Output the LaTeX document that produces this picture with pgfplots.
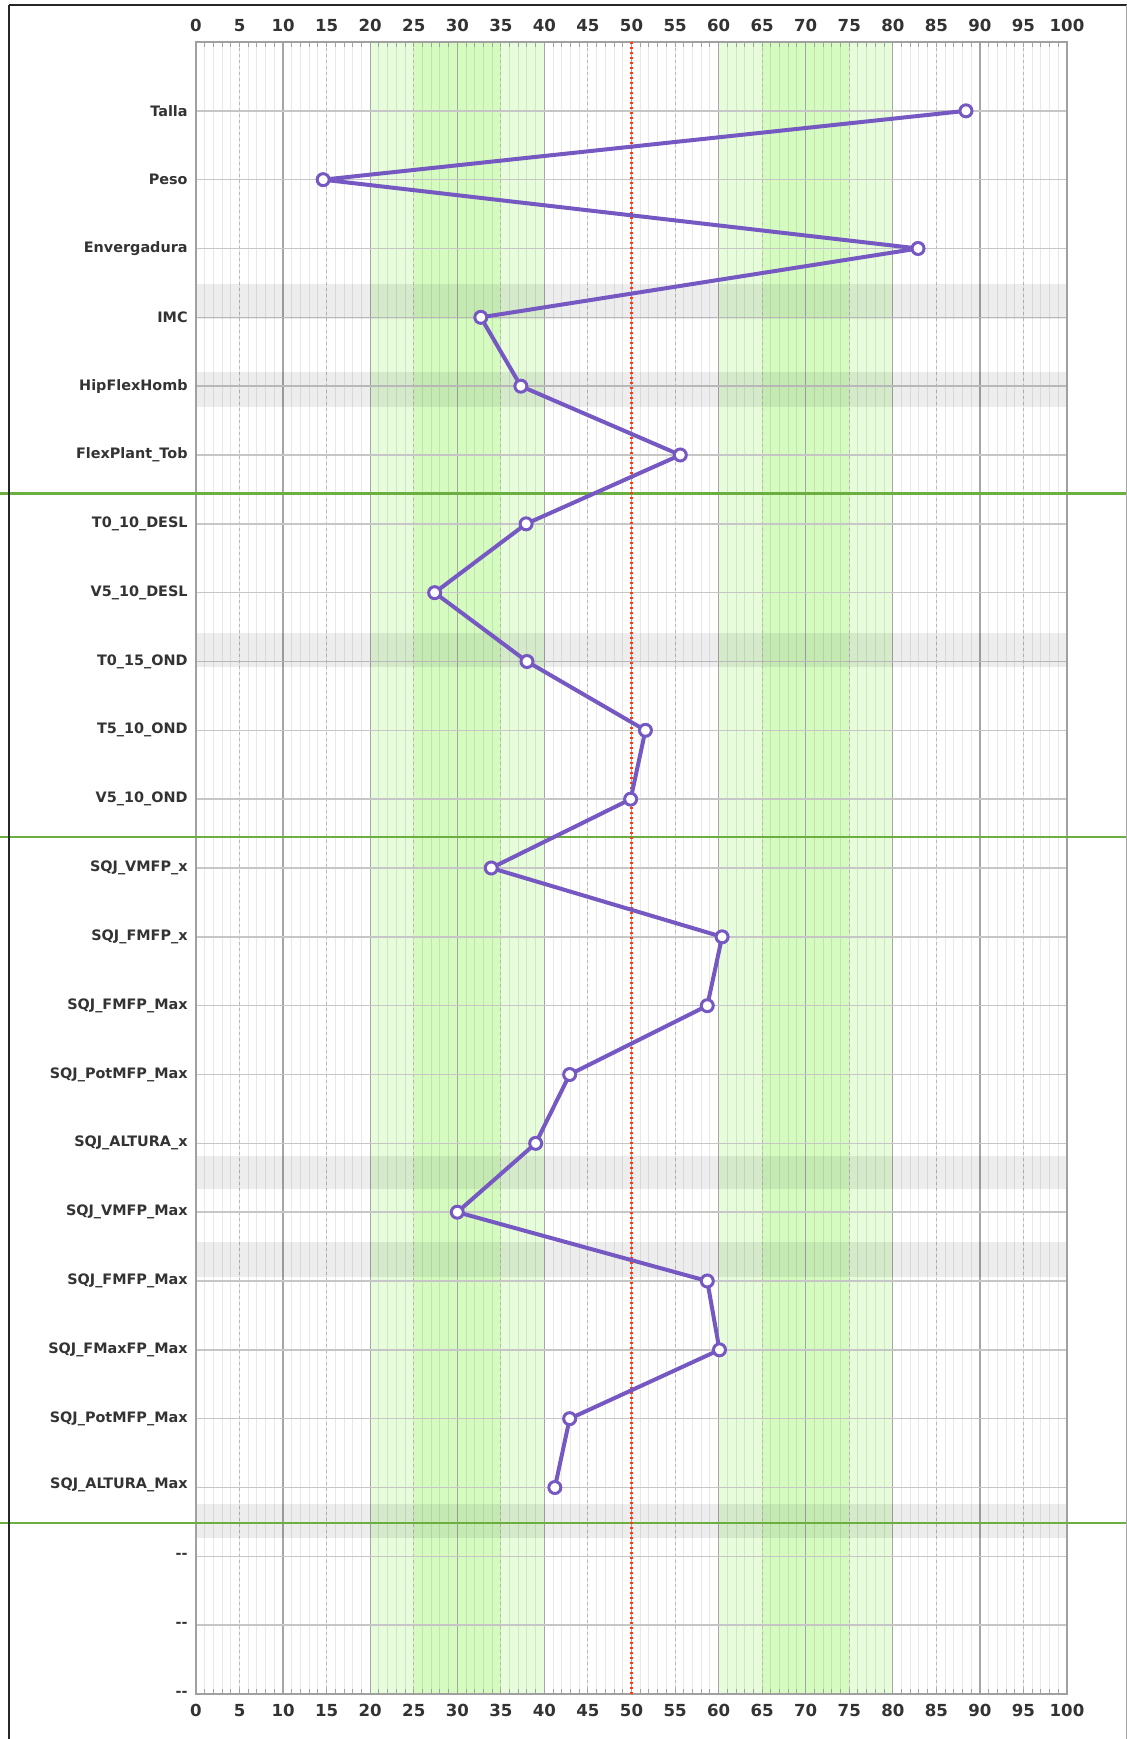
\documentclass[border=0pt]{standalone}
\usepackage{pgfplots}
\pgfplotsset{compat=1.18}
\usepackage{fontspec}
\setmainfont{DejaVu Sans}
\usetikzlibrary{calc}

\definecolor{lgreen}{HTML}{E6FCDA}
\definecolor{dgreen}{HTML}{D5FBC0}
\definecolor{rowgrid}{HTML}{C6C6C6}
\definecolor{tengrid}{HTML}{A6A6A6}
\definecolor{fivegrid}{HTML}{B8B8B8}
\definecolor{boxc}{HTML}{A0A0A0}
\definecolor{purp}{HTML}{7658C2}
\definecolor{redd}{HTML}{FF3A10}
\definecolor{sepgreen}{HTML}{6AAF40}
\definecolor{txt}{HTML}{333333}

\begin{document}
\begin{tikzpicture}
\begin{axis}[
    name=ax,
    scale only axis,
    width=435.5pt, height=826pt,
    xmin=0, xmax=100, ymin=0, ymax=24,
    y dir=reverse,
    clip=false,
    axis line style={draw=none},
    xtick=\empty,
    ytick={1,...,24},
    yticklabels={Talla, Peso, Envergadura, IMC, HipFlexHomb, FlexPlant\_Tob,
        T0\_10\_DESL, V5\_10\_DESL, T0\_15\_OND, T5\_10\_OND, V5\_10\_OND,
        {SQJ\_VMFP\_x\hspace{2.5pt}}, {SQJ\_FMFP\_x\hspace{2.5pt}}, {SQJ\_FMFP\_Max\hspace{2.5pt}},
        {SQJ\_PotMFP\_Max\hspace{2.5pt}}, {SQJ\_ALTURA\_x\hspace{2.5pt}}, {SQJ\_VMFP\_Max\hspace{2.5pt}},
        {SQJ\_FMFP\_Max\hspace{2.5pt}}, {SQJ\_FMaxFP\_Max\hspace{2.5pt}}, {SQJ\_PotMFP\_Max\hspace{2.5pt}},
        {\raisebox{4.5pt}{SQJ\_ALTURA\_Max}}, {-{}-}, {-{}-}, {-{}-}},
    major tick length=0pt,
    ytick style={draw=none},
    yticklabel style={font=\bfseries\fontsize{7.2}{8}\selectfont, text=txt,
        anchor=east, inner sep=0pt, xshift=-4pt},
]
% reference zones
\fill[lgreen] (axis cs:20,0) rectangle (axis cs:40,24);
\fill[dgreen] (axis cs:25,0) rectangle (axis cs:35,24);
\fill[lgreen] (axis cs:60,0) rectangle (axis cs:80,24);
\fill[dgreen] (axis cs:65,0) rectangle (axis cs:75,24);

% vertical grid
\pgfplotsinvokeforeach{1,...,99}{
    \draw[black, opacity=0.09, line width=0.5pt] (axis cs:#1,0) -- (axis cs:#1,24);
}
\pgfplotsinvokeforeach{5,15,...,95}{
    \draw[fivegrid, line width=0.5pt, dash pattern=on 1.5pt off 1.5pt] (axis cs:#1,0) -- (axis cs:#1,24);
}
\pgfplotsinvokeforeach{10,20,...,90}{
    \draw[tengrid, line width=0.6pt] (axis cs:#1,0) -- (axis cs:#1,24);
}
% horizontal grid
\pgfplotsinvokeforeach{1,...,23}{
    \draw[rowgrid, line width=0.75pt] (axis cs:0,#1) -- (axis cs:100,#1);
}
% shaded rows
\pgfplotsinvokeforeach{3.52/4.02, 4.80/5.30, 8.59/9.08, 16.18/16.67, 17.44/17.94, 21.24/21.73}{
    \pgfplotsforeachungrouped \a/\b in {#1}{
        \edef\tmp{\noexpand\fill[black, opacity=0.07] (axis cs:0,\a) rectangle (axis cs:100,\b);}\tmp
    }
}
% tick marks
\pgfplotsinvokeforeach{0,...,100}{
    \draw[boxc, line width=0.5pt] (axis cs:#1,0) -- ++(0,-2.5pt);
    \draw[boxc, line width=0.5pt] (axis cs:#1,24) -- ++(0,2.5pt);
}
\draw[boxc, line width=0.7pt] (axis cs:0,0) rectangle (axis cs:100,24);

% tick labels top and bottom
\pgfplotsinvokeforeach{0,5,...,100}{
    \node[anchor=base, inner sep=0pt, text=txt, font=\bfseries\fontsize{8.3}{9}\selectfont]
        at ($(axis cs:#1,0)+(0,5pt)$) {#1};
    \node[anchor=north, inner sep=0pt, text=txt, font=\bfseries\fontsize{8.3}{9}\selectfont]
        at ($(axis cs:#1,24)+(0,-5pt)$) {#1};
}

% group separators
\draw[sepgreen, line width=1.1pt] ($(axis cs:0,6.56)+(-98pt,0)$) -- ($(axis cs:100,6.56)+(30pt,0)$);
\draw[sepgreen, line width=1.1pt] ($(axis cs:0,11.55)+(-98pt,0)$) -- ($(axis cs:100,11.55)+(30pt,0)$);
\draw[sepgreen, line width=1.1pt] ($(axis cs:0,21.52)+(-98pt,0)$) -- ($(axis cs:100,21.52)+(30pt,0)$);

% median line
\draw[redd, line width=1.8pt, dash pattern=on 1.1pt off 1.4pt] (axis cs:50,0) -- (axis cs:50,24);

\addplot[purp, line width=2pt, miter limit=4, mark=*, mark size=3pt,
    mark options={fill=white, draw=purp, line width=1.5pt}] coordinates {
    (88.4,1) (14.6,2) (82.9,3) (32.7,4) (37.3,5) (55.6,6)
    (37.9,7) (27.4,8) (38.0,9) (51.6,10) (49.9,11)
    (33.9,12) (60.4,13) (58.7,14) (42.9,15) (39.0,16)
    (30.0,17) (58.7,18) (60.1,19) (42.9,20) (41.2,21)
};

% outer frame
\draw[black!85, line width=0.9pt] ($(axis cs:0,0)+(-93.5pt,18.5pt)$) -- ($(axis cs:0,24)+(-93.5pt,-22.5pt)$);
\draw[black!85, line width=0.9pt] ($(axis cs:0,0)+(-93.5pt,18.5pt)$) -- ($(axis cs:100,0)+(30pt,18.5pt)$);
\draw[black!35, line width=0.6pt] ($(axis cs:100,0)+(29.7pt,18.5pt)$) -- ($(axis cs:100,24)+(29.7pt,-22.5pt)$);
\end{axis}
\pgfresetboundingbox
\path[use as bounding box] ($(ax.south west)+(-98pt,-22.5pt)$) rectangle ($(ax.north east)+(30pt,21pt)$);
\end{tikzpicture}
\end{document}
